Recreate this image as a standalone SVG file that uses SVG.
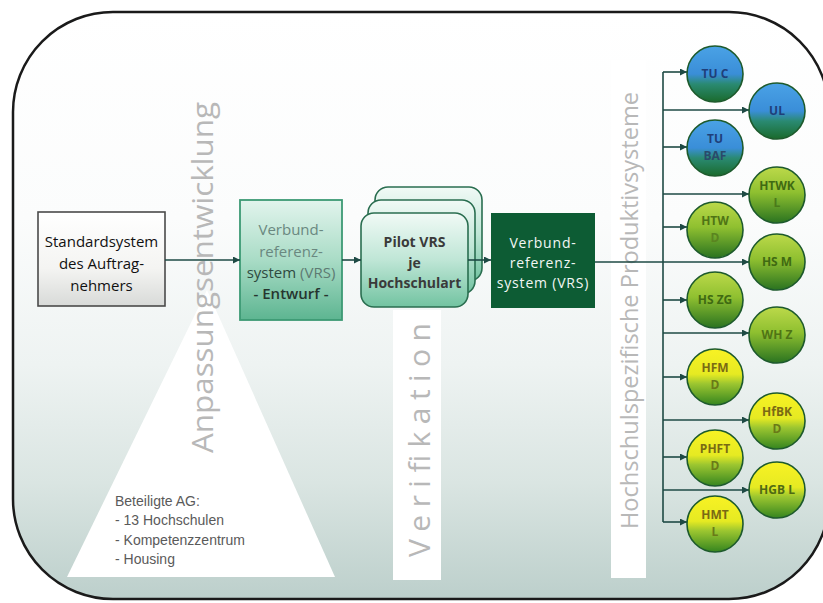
<svg xmlns="http://www.w3.org/2000/svg" width="823" height="603" viewBox="0 0 823 603">
<style>
.box{font-family:"Open Sans","Liberation Sans",sans-serif;font-size:15px;text-anchor:middle}
.pilot{font-family:"Open Sans","Liberation Sans",sans-serif;font-size:14px;font-weight:bold;fill:#3a3a3a;text-anchor:middle}
.dark{font-family:"Open Sans","Liberation Sans",sans-serif;font-size:14px;fill:#f2f7f4;text-anchor:middle;letter-spacing:0.8px}
.vert{font-family:"Open Sans","Liberation Sans",sans-serif;fill:#b8b8b8}
.lbl{font-family:"Open Sans","Liberation Sans",sans-serif;font-size:12px;font-weight:bold;text-anchor:middle}
.note{font-family:"Liberation Sans",Arial,sans-serif;font-size:14px;fill:#5a5a5a}
.conn{fill:none;stroke:#1e4a44;stroke-width:1.6}
.circ{stroke:#1d5a2c;stroke-width:1.6}
.pbox{fill:url(#gPilot);stroke:#2a6e50;stroke-width:1.6}
</style>
<defs>
<linearGradient id="gBg" gradientUnits="userSpaceOnUse" x1="0" y1="12" x2="0" y2="600">
<stop offset="0" stop-color="#ffffff"/>
<stop offset="0.35" stop-color="#fbfcfc"/>
<stop offset="0.6" stop-color="#eef3f2"/>
<stop offset="0.8" stop-color="#dae5e2"/>
<stop offset="1" stop-color="#bccfcb"/>
</linearGradient>
<linearGradient id="gStd" x1="0" y1="0" x2="0" y2="1">
<stop offset="0" stop-color="#ffffff"/>
<stop offset="0.6" stop-color="#f4f4f2"/>
<stop offset="1" stop-color="#d8dad8"/>
</linearGradient>
<linearGradient id="gEnt" x1="0" y1="0" x2="0" y2="1">
<stop offset="0" stop-color="#e2f4ed"/>
<stop offset="0.5" stop-color="#a9dcc6"/>
<stop offset="1" stop-color="#5db591"/>
</linearGradient>
<linearGradient id="gPilot" x1="0" y1="0" x2="0" y2="1">
<stop offset="0" stop-color="#f1faf6"/>
<stop offset="0.5" stop-color="#bfe6d6"/>
<stop offset="1" stop-color="#72c3a1"/>
</linearGradient>
<linearGradient id="gBlue" x1="0" y1="0" x2="0" y2="1">
<stop offset="0" stop-color="#4aa2e6"/>
<stop offset="0.5" stop-color="#3a8ed8"/>
<stop offset="0.68" stop-color="#2a8a72"/>
<stop offset="1" stop-color="#1a6a2c"/>
</linearGradient>
<linearGradient id="gGreen" x1="0" y1="0" x2="0" y2="1">
<stop offset="0" stop-color="#bcd94a"/>
<stop offset="0.45" stop-color="#8fc030"/>
<stop offset="1" stop-color="#2a7320"/>
</linearGradient>
<linearGradient id="gYellow" x1="0" y1="0" x2="0" y2="1">
<stop offset="0" stop-color="#f8f224"/>
<stop offset="0.45" stop-color="#e6ea22"/>
<stop offset="0.62" stop-color="#9cc630"/>
<stop offset="1" stop-color="#35851f"/>
</linearGradient>
<marker id="arr" viewBox="0 0 10 10" refX="10" refY="5" markerWidth="7" markerHeight="7" markerUnits="userSpaceOnUse" orient="auto">
<path d="M0,0 L10,5 L0,10 z" fill="#1e4a44"/>
</marker>
</defs>

<rect width="823" height="603" fill="#ffffff"/>
<rect id="frame" x="13" y="12" width="816" height="587" rx="100" ry="100" fill="url(#gBg)" stroke="#1a1a1a" stroke-width="2.5"/>

<g id="phase-anpassung">
<polygon points="207,290 335,577 67,577" fill="#ffffff"/>
<text class="vert" font-size="30" transform="translate(213,453) rotate(-90)" textLength="351" lengthAdjust="spacingAndGlyphs">Anpassungsentwicklung</text>
<text class="note" x="115" y="506">Beteiligte AG:</text>
<text class="note" x="115" y="525">- 13 Hochschulen</text>
<text class="note" x="115" y="545">- Kompetenzzentrum</text>
<text class="note" x="115" y="564">- Housing</text>
</g>

<g id="phase-verifikation">
<rect x="393" y="310" width="48" height="270" fill="#ffffff"/>
<text class="vert" font-size="30" fill="#ababab" transform="translate(430,557) rotate(-90)" textLength="234" lengthAdjust="spacing">Verifikation</text>
</g>

<g id="phase-produktiv">
<rect x="611" y="60" width="35" height="518" fill="#ffffff"/>
<text class="vert" font-size="23" transform="translate(638,529) rotate(-90)" textLength="437" lengthAdjust="spacingAndGlyphs">Hochschulspezifische Produktivsysteme</text>
</g>

<g id="standardsystem">
<rect x="38" y="212" width="127" height="94" fill="url(#gStd)" stroke="#4a4a4a" stroke-width="1.6"/>
<text class="box" fill="#111111" x="101.5" y="247">Standardsystem</text>
<text class="box" fill="#111111" x="101.5" y="269">des Auftrag-</text>
<text class="box" fill="#111111" x="101.5" y="291">nehmers</text>
</g>

<g id="vrs-entwurf">
<rect x="240" y="200" width="102" height="120" fill="url(#gEnt)" stroke="#3c9a74" stroke-width="1.8"/>
<text class="box" fill="#6a8880" x="291" y="235">Verbund-</text>
<text class="box" fill="#6a8880" x="291" y="257">referenz-</text>
<text class="box" x="291" y="278"><tspan fill="#2e4a40">system</tspan><tspan fill="#5d7a72"> (VRS)</tspan></text>
<text class="box" fill="#26352f" font-weight="600" x="291" y="299">- Entwurf -</text>
</g>

<g id="pilot-vrs">
<rect class="pbox" x="375" y="187" width="107" height="94" rx="13"/>
<rect class="pbox" x="368" y="200" width="107" height="94" rx="13"/>
<rect class="pbox" x="361" y="213" width="107" height="94" rx="13"/>
<text class="pilot" x="414.5" y="247">Pilot VRS</text>
<text class="pilot" x="414.5" y="268">je</text>
<text class="pilot" x="414.5" y="288">Hochschulart</text>
</g>

<g id="vrs">
<rect x="491" y="213" width="104" height="95" fill="#0d5c34"/>
<text class="dark" x="543" y="248">Verbund-</text>
<text class="dark" x="543" y="268">referenz-</text>
<text class="dark" x="543" y="288">system (VRS)</text>
</g>

<g id="connectors">
<path class="conn" d="M165,260 H240" marker-end="url(#arr)"/>
<path class="conn" d="M342,260 H361" marker-end="url(#arr)"/>
<path class="conn" d="M468,260 H491" marker-end="url(#arr)"/>
<path class="conn" d="M595,262 H749" marker-end="url(#arr)"/>
<path class="conn" d="M663,72 V522"/>
<path class="conn" d="M663,72 H687" marker-end="url(#arr)"/>
<path class="conn" d="M663,110 H749" marker-end="url(#arr)"/>
<path class="conn" d="M663,147 H687" marker-end="url(#arr)"/>
<path class="conn" d="M663,194 H749" marker-end="url(#arr)"/>
<path class="conn" d="M663,227 H687" marker-end="url(#arr)"/>
<path class="conn" d="M663,300 H687" marker-end="url(#arr)"/>
<path class="conn" d="M663,333 H749" marker-end="url(#arr)"/>
<path class="conn" d="M663,377 H687" marker-end="url(#arr)"/>
<path class="conn" d="M663,420 H749" marker-end="url(#arr)"/>
<path class="conn" d="M663,457 H687" marker-end="url(#arr)"/>
<path class="conn" d="M663,490 H749" marker-end="url(#arr)"/>
<path class="conn" d="M663,522 H687" marker-end="url(#arr)"/>
</g>

<g id="tu-c"><circle class="circ" cx="715" cy="74" r="28" fill="url(#gBlue)"/><text class="lbl" fill="#1f3f7a" x="715" y="78">TU C</text></g>
<g id="ul"><circle class="circ" cx="777" cy="111" r="28" fill="url(#gBlue)"/><text class="lbl" fill="#1f3f7a" x="777" y="115">UL</text></g>
<g id="tu-baf"><circle class="circ" cx="715" cy="148" r="28" fill="url(#gBlue)"/><text class="lbl" fill="#1f3f7a" x="715" y="143">TU</text><text class="lbl" fill="#2a4a6a" x="715" y="160">BAF</text></g>
<g id="htwk-l"><circle class="circ" cx="777" cy="195" r="28" fill="url(#gGreen)"/><text class="lbl" fill="#3f6a12" x="777" y="190">HTWK</text><text class="lbl" fill="#4a7a1a" x="777" y="207">L</text></g>
<g id="htw-d"><circle class="circ" cx="715" cy="230" r="28" fill="url(#gGreen)"/><text class="lbl" fill="#4f7415" x="715" y="225">HTW</text><text class="lbl" fill="#5a8420" x="715" y="242">D</text></g>
<g id="hs-m"><circle class="circ" cx="777" cy="262" r="28" fill="url(#gGreen)"/><text class="lbl" fill="#3f6a12" x="777" y="266">HS M</text></g>
<g id="hs-zg"><circle class="circ" cx="715" cy="300" r="28" fill="url(#gGreen)"/><text class="lbl" fill="#3f6a12" x="715" y="304">HS ZG</text></g>
<g id="wh-z"><circle class="circ" cx="777" cy="335" r="28" fill="url(#gGreen)"/><text class="lbl" fill="#4f7415" x="777" y="339">WH Z</text></g>
<g id="hfm-d"><circle class="circ" cx="715" cy="377" r="28" fill="url(#gYellow)"/><text class="lbl" fill="#7a6a14" x="715" y="372">HFM</text><text class="lbl" fill="#6a7a18" x="715" y="389">D</text></g>
<g id="hfbk-d"><circle class="circ" cx="777" cy="421" r="28" fill="url(#gYellow)"/><text class="lbl" fill="#7a6a14" x="777" y="416">HfBK</text><text class="lbl" fill="#6a7a18" x="777" y="433">D</text></g>
<g id="phft-d"><circle class="circ" cx="715" cy="458" r="28" fill="url(#gYellow)"/><text class="lbl" fill="#7a6a14" x="715" y="453">PHFT</text><text class="lbl" fill="#6a7a18" x="715" y="470">D</text></g>
<g id="hgb-l"><circle class="circ" cx="777" cy="490" r="28" fill="url(#gYellow)"/><text class="lbl" fill="#4f6a14" x="777" y="494">HGB L</text></g>
<g id="hmt-l"><circle class="circ" cx="715" cy="524" r="28" fill="url(#gYellow)"/><text class="lbl" fill="#7a6a14" x="715" y="519">HMT</text><text class="lbl" fill="#6a7a18" x="715" y="536">L</text></g>
</svg>
